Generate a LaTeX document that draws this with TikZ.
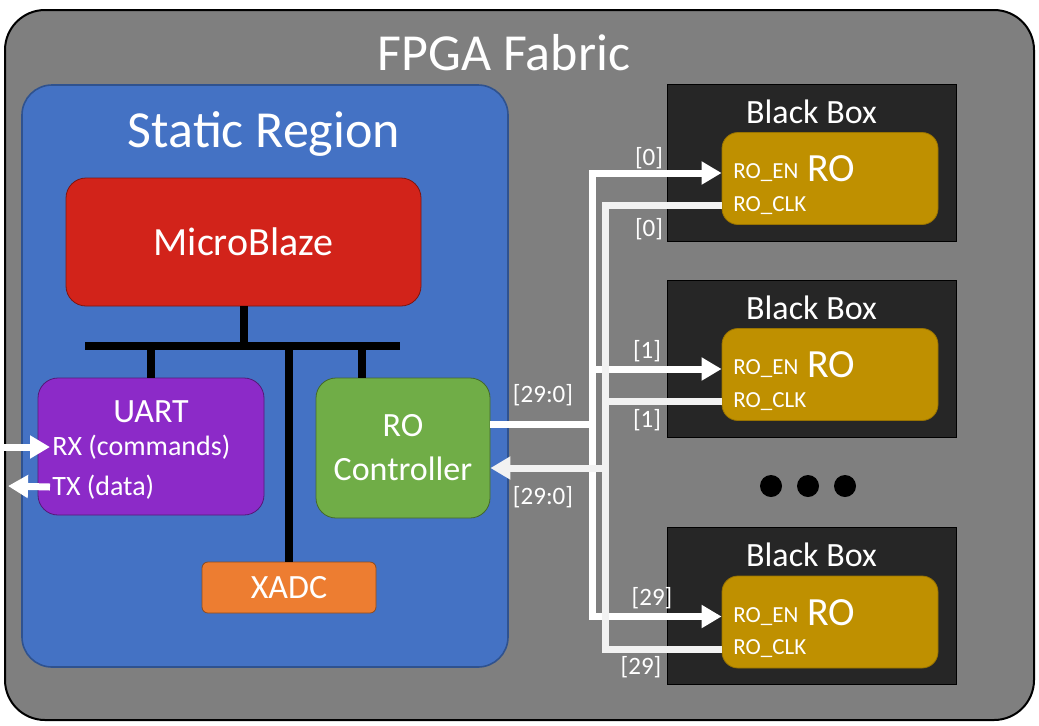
\documentclass[tikz,border=0pt]{standalone}
\usepackage{fontspec}
\setmainfont{Carlito}
\usepackage{tikz}
\usetikzlibrary{arrows.meta, positioning, calc}

\definecolor{fabricgray}{RGB}{127,127,127}
\definecolor{staticblue}{RGB}{68,114,196}
\definecolor{staticedge}{RGB}{47,82,143}
\definecolor{mbred}{RGB}{210,35,26}
\definecolor{uartpurple}{RGB}{140,42,200}
\definecolor{ctrlgreen}{RGB}{112,173,71}
\definecolor{xadcorange}{RGB}{237,125,49}
\definecolor{boxblack}{RGB}{38,38,38}
\definecolor{rogold}{RGB}{191,144,0}
\definecolor{inwhite}{RGB}{242,242,242}

\newcommand{\fsHuge}{\fontsize{26}{30}\selectfont}
\newcommand{\fsBig}{\fontsize{20}{24}\selectfont}
\newcommand{\fsMid}{\fontsize{17}{20}\selectfont}
\newcommand{\fsSmall}{\fontsize{14}{17}\selectfont}
\newcommand{\fsBit}{\fontsize{12.5}{15}\selectfont}
\newcommand{\fsPin}{\fontsize{11.5}{14}\selectfont}

\begin{document}
\begin{tikzpicture}[x=0.5pt,y=-0.5pt,>={Triangle[length=10pt,width=11pt]},
    block/.style={draw, rounded corners=10pt, text=white, inner sep=0pt},
    blackbox/.style={draw=black, fill=boxblack, minimum width=144.5pt, minimum height=78.5pt, inner sep=0pt},
    robox/.style={draw=rogold!80!black, fill=rogold, rounded corners=8pt, minimum width=108pt, minimum height=46pt, inner sep=0pt},
    lbl/.style={text=white, inner sep=1pt},
    bus/.style={draw=black, line width=4pt},
    outbus/.style={draw=white, line width=3.5pt},
    inbus/.style={draw=inwhite, line width=3.5pt}]
    \useasboundingbox (0,0) rectangle (1039,725);

    % fabric and static region
    \node[draw=black, line width=1pt, fill=fabricgray, rounded corners=20pt,
          minimum width=514.5pt, minimum height=355pt, inner sep=0pt] (fabric) at (519.5,365) {};
    \node[lbl, font=\fsHuge] at (504,53) {FPGA Fabric};
    \node[draw=staticedge, line width=0.8pt, fill=staticblue, rounded corners=15pt,
          minimum width=243pt, minimum height=291pt, inner sep=0pt] (static) at (265,376) {};
    \node[lbl, font=\fsHuge] at (264,134) {Static Region};

    % static blocks
    \node[block, draw=mbred!60!black, fill=mbred, font=\fsBig,
          minimum width=177.5pt, minimum height=64pt] (mblaze) at (243.5,242) {MicroBlaze};
    \node[block, draw=uartpurple!60!black, fill=uartpurple,
          minimum width=113pt, minimum height=68.5pt] (uart) at (151,446.5) {};
    \node[lbl, font=\fsMid] (uartname) at (151,412) {UART};
    \node[lbl, font=\fsSmall, anchor=west] (rx) at (50,447) {RX (commands)};
    \node[lbl, font=\fsSmall, anchor=west] (tx) at (50,487) {TX (data)};
    \node[block, draw=ctrlgreen!60!black, fill=ctrlgreen, font=\fsMid, align=center,
          minimum width=87pt, minimum height=70pt] (roctrl) at (403,448) {RO\\[2pt]Controller};
    \node[block, rounded corners=3pt, draw=xadcorange!60!black, fill=xadcorange, font=\fsMid,
          minimum width=87pt, minimum height=25.5pt] (xadc) at (289,587.5) {XADC};

    % bus
    \coordinate (busL) at (85,346);
    \coordinate (busR) at (400,346);
    \coordinate (busC) at (362,346);
    \draw[bus] (busL) -- (busR);
    \draw[bus] (mblaze.south) -- (mblaze.south |- busL);
    \draw[bus] (uart.north |- busL) -- (uart.north);
    \draw[bus] (busC) -- (busC |- roctrl.north);
    \draw[bus] (xadc.north |- busL) -- (xadc.north);

    % uart pins
    \coordinate (rxin) at (0,447);
    \coordinate (txout) at (8,486);
    \draw[outbus, ->] (rxin) -- (rx.west);
    \draw[outbus, ->] (tx.west) -- (txout);

    % black boxes
    \foreach \n/\y in {A/162.5, B/358.5, C/606} {
      \node[blackbox] (bb\n) at (811.5,\y) {};
      \node[lbl, font=\fsMid] at (811.5,\y-51) {Black Box};
      \node[robox] (ro\n) at (830,\y+16) {};
      \node[lbl, font=\fsPin, anchor=west] (en\n) at (731,\y+10.5) {RO\_EN};
      \node[lbl, font=\fsPin, anchor=west] (clk\n) at (731,\y+43) {RO\_CLK};
      \node[lbl, font=\fsBig] at (831,\y+6.5) {RO};
    }
    \foreach \x in {771,808,845}
      \fill[black] (\x,486) circle (5.5pt);

    % RO enable bus
    \coordinate (outJ) at (592,424);
    \coordinate (inJ) at (605,468);
    \draw[outbus] (roctrl.east |- outJ) -- (outJ);
    \draw[outbus, <->] (roA.west |- enA) -- (outJ |- enA) -- (outJ |- enC) -- (roC.west |- enC);
    \draw[outbus, ->] (outJ |- enB) -- (roB.west |- enB);

    % RO clock bus
    \draw[inbus] (roA.west |- clkA) -- (inJ |- clkA) -- (inJ |- clkC) -- (roC.west |- clkC);
    \draw[inbus] (roB.west |- clkB) -- (inJ |- clkB);
    \draw[inbus, ->] (inJ) -- (roctrl.east |- inJ);

    % bit labels
    \node[lbl, font=\fsBit] at (543,395) {[29:0]};
    \node[lbl, font=\fsBit] at (543,497) {[29:0]};
    \node[lbl, font=\fsBit] at (649,158) {[0]};
    \node[lbl, font=\fsBit] at (649,229) {[0]};
    \node[lbl, font=\fsBit] at (647,351) {[1]};
    \node[lbl, font=\fsBit] at (647,420) {[1]};
    \node[lbl, font=\fsBit] at (652,598) {[29]};
    \node[lbl, font=\fsBit] at (641,667) {[29]};
\end{tikzpicture}
\end{document}
